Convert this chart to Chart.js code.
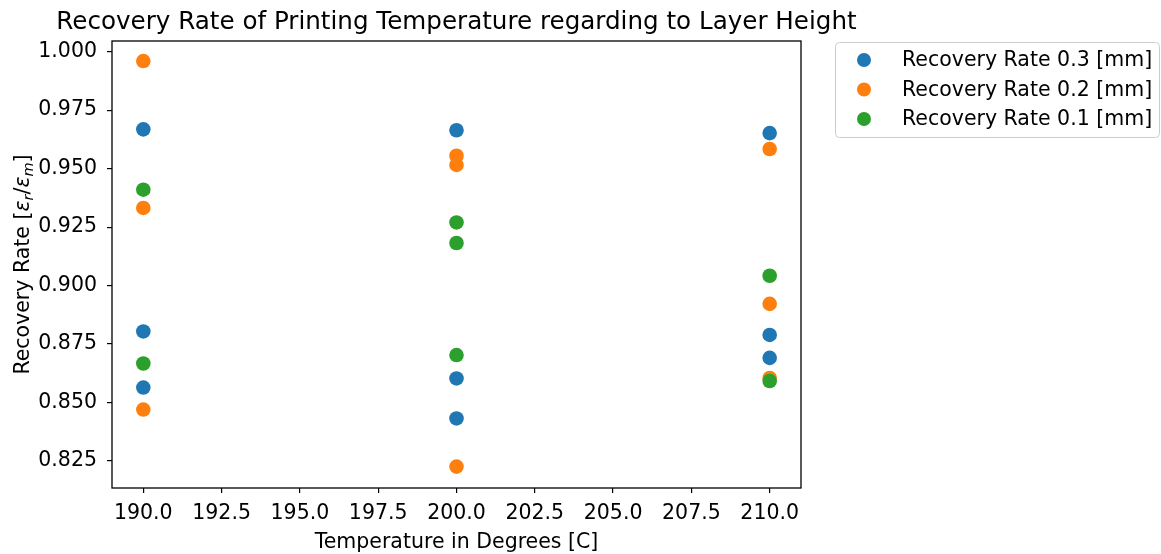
<!DOCTYPE html>
<html>
<head>
<meta charset="utf-8">
<script src="https://cdn.jsdelivr.net/npm/chart.js@4"></script>
<style>
  html, body { margin: 0; padding: 0; background: #fff; }
  #wrap { width: 1161px; height: 554px; position: relative; }
</style>
</head>
<body>
<div id="wrap"><canvas id="chart"></canvas></div>
<script>
// temperatures (x) and recovery rates (y)
const temps03 = [190, 190, 190, 200, 200, 200, 210, 210, 210];
const rate03  = [0.9668, 0.8804, 0.8564, 0.9664, 0.8603, 0.8432, 0.9652, 0.8789, 0.8691];
const temps02 = [190, 190, 190, 200, 200, 200, 210, 210, 210];
const rate02  = [0.9960, 0.9332, 0.8470, 0.9555, 0.9516, 0.8226, 0.9584, 0.8922, 0.8605];
const temps01 = [190, 190, 200, 200, 200, 210, 210];
const rate01  = [0.9410, 0.8667, 0.9270, 0.9182, 0.8703, 0.9042, 0.8592];

const seriesLabels = ['Recovery Rate 0.3 [mm]', 'Recovery Rate 0.2 [mm]', 'Recovery Rate 0.1 [mm]'];
const seriesColors = ['#1f77b4', '#ff7f0e', '#2ca02c'];

const xTicks = [190, 192.5, 195, 197.5, 200, 202.5, 205, 207.5, 210];
const yTicks = [0.825, 0.850, 0.875, 0.900, 0.925, 0.950, 0.975, 1.000];

const FONT = 'DejaVu Sans';
const FS = 20.5;
const toPts = (xs, ys) => xs.map((x, i) => ({ x: x, y: ys[i] }));

const extras = {
    id: 'extras',
    afterDraw(chart) {
        const c = chart.ctx, a = chart.chartArea;
        c.save();
        // axes frame
        c.strokeStyle = '#000'; c.lineWidth = 1.3;
        c.strokeRect(a.left, a.top, a.right - a.left, a.bottom - a.top);

        // title
        c.fillStyle = '#000';
        c.font = '24.6px "' + FONT + '"';
        c.textAlign = 'center'; c.textBaseline = 'alphabetic';
        c.fillText('Recovery Rate of Printing Temperature regarding to Layer Height', (a.left + a.right) / 2, 28.5);

        // x title
        c.font = FS + 'px "' + FONT + '"';
        c.fillText('Temperature in Degrees [C]', (a.left + a.right) / 2, 547.5);

        // y title with subscripts
        c.save();
        c.translate(28.5, (a.top + a.bottom) / 2);
        c.rotate(-Math.PI / 2);
        const parts = [
            ['Recovery Rate [', FS + 'px "' + FONT + '"', 0],
            ['ε', 'italic ' + FS + 'px "' + FONT + '"', 0],
            ['r', 'italic 14.5px "' + FONT + '"', 4],
            ['/', FS + 'px "' + FONT + '"', 0],
            ['ε', 'italic ' + FS + 'px "' + FONT + '"', 0],
            ['m', 'italic 14.5px "' + FONT + '"', 4],
            [']', FS + 'px "' + FONT + '"', 0]
        ];
        let total = 0;
        parts.forEach(p => { c.font = p[1]; total += c.measureText(p[0]).width; });
        let px = -total / 2;
        c.textAlign = 'left';
        parts.forEach(p => {
            c.font = p[1];
            c.fillText(p[0], px, p[2]);
            px += c.measureText(p[0]).width;
        });
        c.restore();

        // legend
        const lx = 835, ly = 42, lw = 324, lh = 95;
        c.beginPath();
        c.roundRect(lx + 0.5, ly + 0.5, lw, lh, 4);
        c.fillStyle = 'rgba(255,255,255,0.8)'; c.fill();
        c.strokeStyle = '#cccccc'; c.lineWidth = 1; c.stroke();
        c.font = FS + 'px "' + FONT + '"';
        c.textAlign = 'left'; c.textBaseline = 'middle';
        seriesLabels.forEach((lab, i) => {
            const cy = 60 + i * 29.5;
            c.beginPath();
            c.arc(864, cy, 7, 0, Math.PI * 2);
            c.fillStyle = seriesColors[i]; c.fill();
            c.fillStyle = '#000';
            c.fillText(lab, 902, cy + 1);
        });
        c.restore();
    }
};

new Chart(document.getElementById('chart'), {
    type: 'scatter',
    data: {
        datasets: [
            { label: seriesLabels[0], data: toPts(temps03, rate03), backgroundColor: seriesColors[0], borderWidth: 0, pointRadius: 7.3, order: 2 },
            { label: seriesLabels[1], data: toPts(temps02, rate02), backgroundColor: seriesColors[1], borderWidth: 0, pointRadius: 7.3, order: 1 },
            { label: seriesLabels[2], data: toPts(temps01, rate01), backgroundColor: seriesColors[2], borderWidth: 0, pointRadius: 7.3, order: 0 }
        ]
    },
    options: {
        responsive: true, maintainAspectRatio: false, animation: false,
        layout: { padding: { left: 0, top: 41, right: 360, bottom: 0 } },
        plugins: { legend: { display: false }, tooltip: { enabled: false } },
        scales: {
            x: {
                type: 'linear', min: 189, max: 211,
                afterBuildTicks: s => { s.ticks = xTicks.map(v => ({ value: v })); },
                afterFit: s => { s.height = 66; },
                grid: { drawOnChartArea: false, drawTicks: true, tickLength: 5, color: '#000', lineWidth: 1.2 },
                border: { display: false },
                ticks: { color: '#000', padding: 8, maxRotation: 0, font: { family: FONT, size: FS }, callback: v => Number(v).toFixed(1) }
            },
            y: {
                type: 'linear', min: 0.81346, max: 1.00457,
                afterBuildTicks: s => { s.ticks = yTicks.map(v => ({ value: v })); },
                afterFit: s => { s.width = 112; },
                grid: { drawOnChartArea: false, drawTicks: true, tickLength: 5, color: '#000', lineWidth: 1.2 },
                border: { display: false },
                ticks: { color: '#000', padding: 10, font: { family: FONT, size: FS }, callback: v => Number(v).toFixed(3) }
            }
        }
    },
    plugins: [extras]
});
</script>
</body>
</html>
